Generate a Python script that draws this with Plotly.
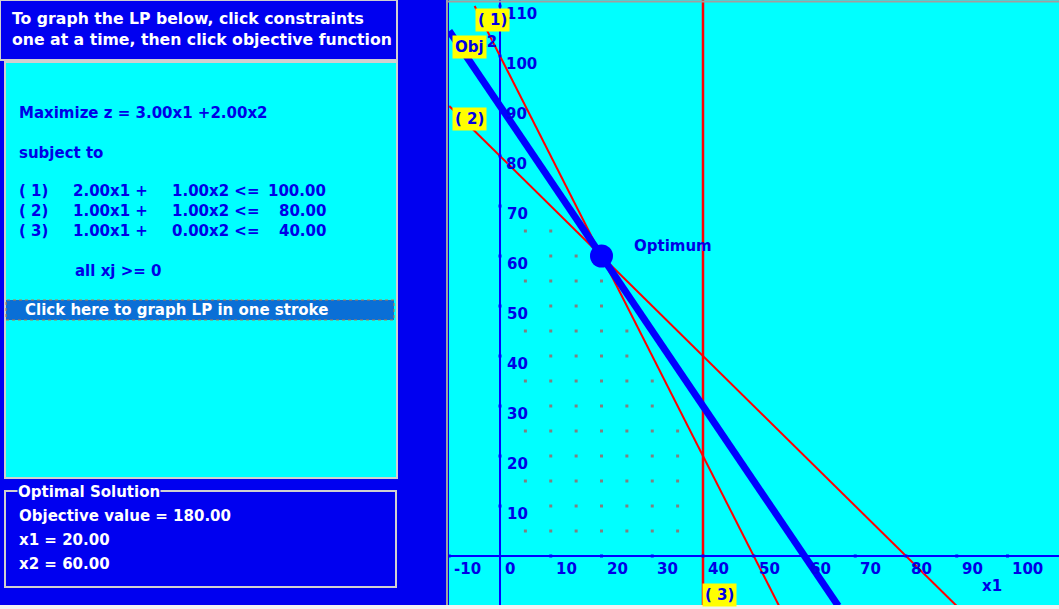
import plotly.graph_objects as go

W, H = 1059, 609

# ---------------- data ----------------
obj_coef = [3.0, 2.0]
con_labels = ["( 1)", "( 2)", "( 3)"]
con_a1 = [2.0, 1.0, 1.0]
con_a2 = [1.0, 1.0, 0.0]
con_rhs = [100.0, 80.0, 40.0]
opt_x1 = 20.0
opt_x2 = 60.0
opt_z = 180.0
x_ticks = [-10, 0, 10, 20, 30, 40, 50, 60, 70, 80, 90, 100]
y_ticks = [10, 20, 30, 40, 50, 60, 70, 80, 90, 100, 110]

# ---------------- styling ----------------
BLUE_BG = "#0000F0"
CYAN = "#00FFFF"
TXT_BLUE = "#0000E6"
RED = "#FF0000"
FONT = "DejaVu Sans"
FS = 15

X_LO, X_HI = -10.05, 110.15
Y_LO, Y_HI = -10.6, 111.2
LINE_YMIN, LINE_YMAX = -10.0, 110.0


def px(x):
    return x / W


def py(y):
    return 1 - y / H


fig = go.Figure()

# feasible grid dots
gx, gy = [], []
for yy in range(5, 110, 5):
    for xx in range(5, 110, 5):
        ok = all(a * xx + b * yy < r for a, b, r in zip(con_a1, con_a2, con_rhs))
        if ok:
            gx.append(xx)
            gy.append(yy)
fig.add_trace(go.Scatter(x=gx, y=gy, mode="markers",
                         marker=dict(symbol="square", size=3, color="#808080"),
                         hoverinfo="skip"))

# constraint lines
for a, b, r in zip(con_a1, con_a2, con_rhs):
    if b == 0:
        xs = [r / a, r / a]
        ys = [LINE_YMIN, Y_HI]
        w = 2.5
    else:
        x_start = max(-10.0, (r - b * LINE_YMAX) / a)
        x_end = (r - b * LINE_YMIN) / a
        xs = [x_start, x_end]
        ys = [(r - a * x_start) / b, (r - a * x_end) / b]
        w = 2
    fig.add_trace(go.Scatter(x=xs, y=ys, mode="lines",
                             line=dict(color=RED, width=w), hoverinfo="skip"))

# objective line
zval = obj_coef[0] * opt_x1 + obj_coef[1] * opt_x2
ox_start = max(-10.0, (zval - obj_coef[1] * LINE_YMAX) / obj_coef[0])
ox_end = (zval - obj_coef[1] * LINE_YMIN) / obj_coef[0]
fig.add_trace(go.Scatter(
    x=[ox_start, ox_end],
    y=[(zval - obj_coef[0] * ox_start) / obj_coef[1], (zval - obj_coef[0] * ox_end) / obj_coef[1]],
    mode="lines", line=dict(color="#0000FF", width=7), hoverinfo="skip"))

# optimum marker
fig.add_trace(go.Scatter(x=[opt_x1], y=[opt_x2], mode="markers",
                         marker=dict(size=23, color="#0000FF"), hoverinfo="skip"))

# axis tick dots
fig.add_trace(go.Scatter(x=[t for t in x_ticks if t != 0], y=[0] * (len(x_ticks) - 1), mode="markers",
                         marker=dict(symbol="square", size=3, color="#0000FF"), hoverinfo="skip"))
fig.add_trace(go.Scatter(x=[0] * len(y_ticks), y=y_ticks, mode="markers",
                         marker=dict(symbol="square", size=3, color="#0000FF"), hoverinfo="skip"))

ann = []


def txt(x, y, s, color=TXT_BLUE, size=FS, xanchor="left", bg=None, ref="paper", **kw):
    d = dict(x=x, y=y, text=s, showarrow=False, xanchor=xanchor, yanchor="middle",
             font=dict(family=FONT, size=size, color=color, weight="bold"),
             xref="paper" if ref == "paper" else "x", yref="paper" if ref == "paper" else "y")
    if bg:
        d["bgcolor"] = bg
    d.update(kw)
    ann.append(d)


# tick labels
for t in x_ticks:
    ann.append(dict(x=t, y=0, xref="x", yref="y", text=str(t), showarrow=False,
                    xanchor="left", yanchor="top", xshift=3, yshift=-2,
                    font=dict(family=FONT, size=FS, color=TXT_BLUE, weight="bold")))
for t in y_ticks:
    d = dict(x=0, y=t, xref="x", yref="y", text=str(t), showarrow=False,
             xanchor="left", yanchor="middle", xshift=4, yshift=-8,
             font=dict(family=FONT, size=FS, color=TXT_BLUE, weight="bold"))
    if t <= 70:
        d["bgcolor"] = CYAN
        d["borderpad"] = 2
    ann.append(d)

# axis titles
txt(96.9, -6, "x1", ref="data", xanchor="center")
txt(-2.6, 102.8, "x2", ref="data", xanchor="center")
txt(26.0, 62.0, "Optimum", ref="data")

# yellow line labels
txt(-6.1, 101.9, "Obj", ref="data", xanchor="center", bg="#FFFF00", borderpad=2)
txt(-1.5, 107.2, con_labels[0], ref="data", xanchor="center", bg="#FFFF00", borderpad=2)
txt(-6.1, 87.5, con_labels[1], ref="data", xanchor="center", bg="#FFFF00", borderpad=2)
txt(con_rhs[2] / con_a1[2] + 3.3, -7.8, con_labels[2], ref="data", xanchor="center", bg="#FFFF00", borderpad=2)

# ---------------- left panel ----------------
shapes = []


def rect(x0, y0, x1, y1, fill, line="#C8C8C8", lw=2, dash=None):
    shapes.append(dict(type="rect", xref="paper", yref="paper",
                       x0=px(x0), x1=px(x1), y0=py(y1), y1=py(y0),
                       fillcolor=fill, line=dict(color=line, width=lw, dash=dash) if lw else dict(width=0)))


rect(0, 0, 397, 60, BLUE_BG, "#D0D0D0", 2)
rect(5, 62, 397, 478, CYAN, "#D0D0D0", 2)
rect(6, 300, 394, 320, "#0A6FD6", "#C07840", 1, "dot")
rect(5, 491, 396, 587, BLUE_BG, "#D0D0D0", 2)

# right panel border & bottom strip
shapes.append(dict(type="line", xref="paper", yref="paper", x0=px(447), x1=px(447), y0=0, y1=1,
                   line=dict(color="#A0A0A0", width=2)))
shapes.append(dict(type="line", xref="paper", yref="paper", x0=px(447), x1=1, y0=py(1.5), y1=py(1.5),
                   line=dict(color="#A0A0A0", width=2)))
rect(0, 605, W, 609, "#F2F2F2", lw=0)

txt(px(10), py(19), "To graph the LP below, click constraints", color="white", size=15.7)
txt(px(10), py(39), "one at a time, then click objective function", color="white", size=15.7)

txt(px(17), py(113), f"Maximize z = {obj_coef[0]:.2f}x1 +{obj_coef[1]:.2f}x2")
txt(px(17), py(153), "subject to")
for i, (lab, a, b, r) in enumerate(zip(con_labels, con_a1, con_a2, con_rhs)):
    yy = 191 + 20 * i
    txt(px(17), py(yy), lab)
    txt(px(71), py(yy), f"{a:.2f}x1 +")
    txt(px(170), py(yy), f"{b:.2f}x2 &lt;=")
    txt(px(328), py(yy), f"{r:.2f}", xanchor="right")
txt(px(73), py(271), "all xj &gt;= 0")
txt(px(23), py(310), "Click here to graph LP in one stroke", color="white")

txt(px(17), py(492), "Optimal Solution", color="white", bg=BLUE_BG, borderpad=0)
txt(px(17), py(516), f"Objective value = {opt_z:.2f}", color="white")
txt(px(17), py(540), f"x1 = {opt_x1:.2f}", color="white")
txt(px(17), py(564), f"x2 = {opt_x2:.2f}", color="white")

fig.update_layout(
    width=W, height=H,
    margin=dict(l=0, r=0, t=0, b=0),
    paper_bgcolor=BLUE_BG,
    plot_bgcolor=CYAN,
    showlegend=False,
    xaxis=dict(domain=[449 / W, 1], range=[X_LO, X_HI], showgrid=False, showticklabels=False,
               ticks="", zeroline=True, zerolinecolor="#0000FF", zerolinewidth=1.5, fixedrange=True),
    yaxis=dict(domain=[0, 1], range=[Y_LO, Y_HI], showgrid=False, showticklabels=False,
               ticks="", zeroline=True, zerolinecolor="#0000FF", zerolinewidth=1.5, fixedrange=True),
    annotations=ann,
    shapes=shapes,
)

fig.write_html("out.html", config={"displayModeBar": False},
               post_script="document.body.style.margin='0';document.body.style.padding='0';")
